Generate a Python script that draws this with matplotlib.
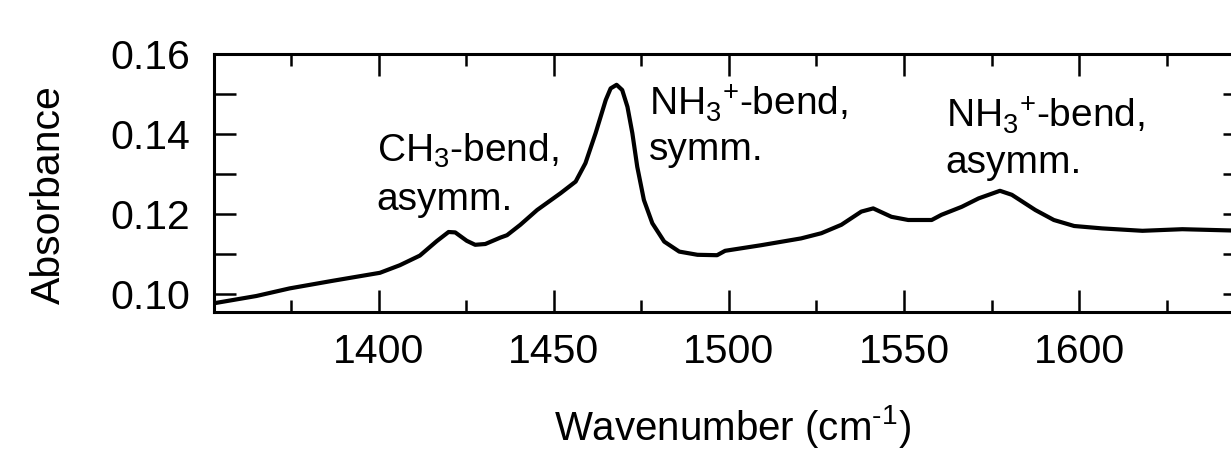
"""IR absorbance spectrum, 1350-1650 cm-1, with bend-mode annotations."""

import matplotlib

matplotlib.use("Agg")
import matplotlib.pyplot as plt
from matplotlib.ticker import MultipleLocator

# spectrum
wavenumber = [
    1353.0, 1365.0, 1374.5, 1386.8, 1400.3, 1406.0, 1411.7, 1416.5, 1419.9,
    1421.8, 1425.1, 1427.5, 1430.4, 1434.7, 1436.6, 1440.4, 1445.2, 1451.9,
    1456.2, 1459.0, 1461.9, 1464.8, 1466.2, 1467.9, 1469.5, 1471.0, 1472.4,
    1473.8, 1475.7, 1478.1, 1481.5, 1485.8, 1491.0, 1496.6, 1498.9, 1509.2,
    1520.6, 1526.4, 1532.1, 1537.8, 1541.2, 1546.4, 1551.2, 1557.9, 1560.7,
    1566.5, 1571.3, 1577.4, 1580.8, 1587.5, 1592.8, 1598.6, 1606.6, 1618.1,
    1629.5, 1647.0,
]
absorbance = [
    0.0977, 0.0995, 0.1014, 0.1033, 0.1053, 0.1072, 0.1096, 0.1132, 0.1155,
    0.1154, 0.1133, 0.1123, 0.1125, 0.1141, 0.1147, 0.1173, 0.1210, 0.1252,
    0.1281, 0.1327, 0.1402, 0.1485, 0.1514, 0.1523, 0.1510, 0.1468, 0.1402,
    0.1318, 0.1235, 0.1177, 0.1131, 0.1106, 0.1098, 0.1097, 0.1108, 0.1122,
    0.1139, 0.1152, 0.1173, 0.1206, 0.1214, 0.1193, 0.1185, 0.1185, 0.1198,
    0.1218, 0.1239, 0.1258, 0.1248, 0.1210, 0.1185, 0.1170, 0.1164, 0.1158,
    0.1162, 0.1158,
]

x_ticks = [1400, 1450, 1500, 1550, 1600]
y_ticks = [0.10, 0.12, 0.14, 0.16]

labels = [
    (r"CH$_3$-bend,", "asymm."),
    (r"NH$_3$$^{+}$-bend,", "symm."),
    (r"NH$_3$$^{+}$-bend,", "asymm."),
]
label_x = [1399.4, 1477.1, 1561.9]
label_y1 = [0.1330, 0.1448, 0.1418]
label_y2 = [0.1210, 0.1335, 0.1302]

plt.rcParams.update(
    {
        "font.family": ["Liberation Sans", "DejaVu Sans"],
        "font.size": 28,
        "mathtext.fontset": "custom",
        "mathtext.rm": "Liberation Sans",
        "mathtext.it": "Liberation Sans",
        "mathtext.bf": "Liberation Sans:bold",
    }
)

fig = plt.figure(figsize=(12.31, 4.53), dpi=100)
ax = fig.add_axes([214 / 1231, 141 / 453, 1031 / 1231, 258 / 453])

ax.plot(wavenumber, absorbance, color="black", lw=3.0,
        solid_joinstyle="round", solid_capstyle="round")

ax.set_xlim(1352.9, 1647.4)
ax.set_ylim(0.0955, 0.16)

ax.set_xticks(x_ticks)
ax.xaxis.set_minor_locator(MultipleLocator(25))
ax.set_yticks(y_ticks)
ax.set_yticklabels([f"{v:.2f}" for v in y_ticks])
ax.yaxis.set_minor_locator(MultipleLocator(0.01))

ax.tick_params(axis="both", which="both", direction="in", top=True, right=True,
               width=1.8, labelsize=29.5)
ax.tick_params(axis="x", which="major", length=16, pad=15)
ax.tick_params(axis="x", which="minor", length=8.5)
ax.tick_params(axis="y", which="both", length=16, pad=17)
for spine in ax.spines.values():
    spine.set_linewidth(2.2)

ax.set_xlabel(r"Wavenumber (cm$^{\text{-1}}$)", fontsize=29, va="center")
ax.xaxis.set_label_coords(0.503, -0.445)
ax.set_ylabel("Absorbance", fontsize=29.5, va="center")
ax.yaxis.set_label_coords(-0.160, 0.455)

for (line1, line2), x, y1, y2 in zip(labels, label_x, label_y1, label_y2):
    ax.text(x, y1, line1, fontsize=28, ha="left", va="baseline")
    ax.text(x, y2, line2, fontsize=28, ha="left", va="baseline")

fig.savefig("out.png", dpi=100)
